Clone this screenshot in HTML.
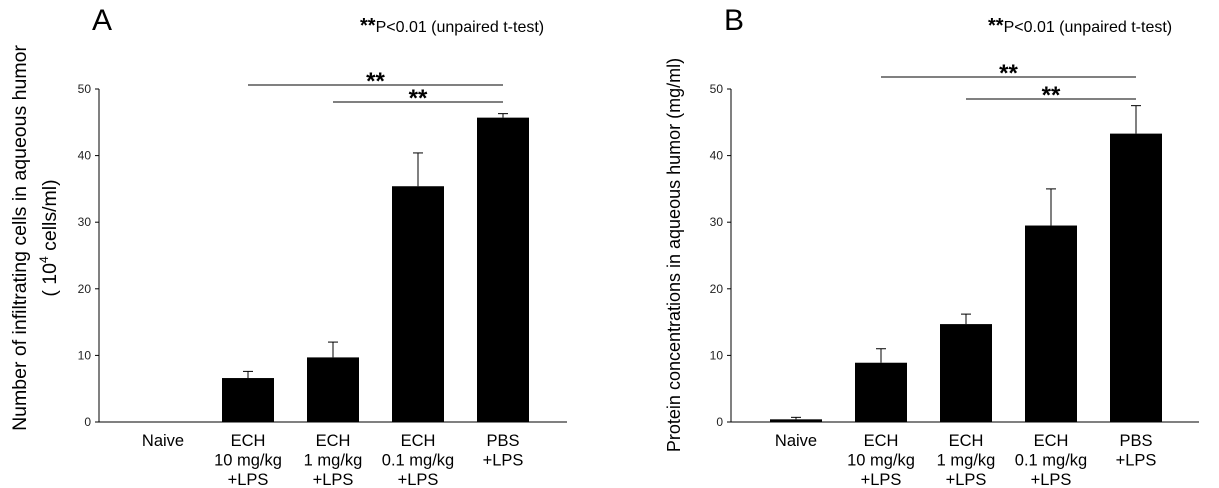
<!DOCTYPE html>
<html><head><meta charset="utf-8"><style>
html,body{margin:0;padding:0;background:#fff;}
svg{display:block;font-family:"Liberation Sans",sans-serif;}
</style></head><body>
<svg id="chart" width="1219" height="488" viewBox="0 0 1219 488"></svg>
<script>
const categories = [["Naive"],["ECH","10 mg/kg","+LPS"],["ECH","1 mg/kg","+LPS"],["ECH","0.1 mg/kg","+LPS"],["PBS","+LPS"]];
const cellsValues = [0, 6.6, 9.7, 35.4, 45.7];
const cellsErrors = [0, 1.0, 2.3, 5.0, 0.6];
const proteinValues = [0.4, 8.9, 14.7, 29.5, 43.3];
const proteinErrors = [0.3, 2.1, 1.5, 5.5, 4.2];
const yTicks = [0, 10, 20, 30, 40, 50];
const svg = document.getElementById('chart');
const NS = 'http://www.w3.org/2000/svg';
function mk(tag, attrs, parent){const e=document.createElementNS(NS,tag);for(const k in attrs)e.setAttribute(k,attrs[k]);(parent||svg).appendChild(e);return e;}
function panel(p){
  const g = mk('g',{});
  
  
  const y = v => 422 - v*(333/50);
  const x = i => p.c0 + i*p.step;
  const ax = mk('line',{x1:p.ax,y1:89,x2:p.ax,y2:422,stroke:'#000','stroke-width':1},g);
   
  const bx = mk('line',{x1:p.ax,y1:422,x2:p.axEnd,y2:422,stroke:'#000','stroke-width':1},g);
   
  yTicks.forEach(t=>{
    const tk = mk('line',{x1:p.ax-4,y1:y(t),x2:p.ax,y2:y(t),stroke:'#000'},g);
     
    const tl = mk('text',{x:p.ax-8,y:y(t)+4,'text-anchor':'end','font-size':12,fill:'#222'},g);
    tl.textContent = t;
     
  });
  p.values.forEach((v,i)=>{
    const cx = x(i);
    const e = p.errors[i];
    if (e>0){
      const el = mk('line',{x1:cx,y1:y(v),x2:cx,y2:y(v+e),stroke:'#000'},g);
       
      const ec = mk('line',{x1:cx-5,y1:y(v+e),x2:cx+5,y2:y(v+e),stroke:'#000'},g);
       
    }
    const r = mk('rect',{x:cx-26,y:y(v),width:52,height:422-y(v),fill:'#000'},g);
     
    const tx = mk('text',{'text-anchor':'middle','font-size':16.5,fill:'#000'},g);
     
    categories[i].forEach((s,j)=>{const ts=mk('tspan',{x:cx,y:446+j*19.5},tx);ts.textContent=s;});
  });
  p.sig.forEach(s=>{
    const l = mk('line',{x1:x(s[0]),y1:s[2],x2:x(s[1]),y2:s[2],stroke:'#000'},g);
     
    const st = mk('text',{x:(x(s[0])+x(s[1]))/2,y:s[2]+4,'text-anchor':'middle','font-size':24,'font-weight':'bold'},g);
    st.textContent='**';
     
  });
  const L = mk('text',{x:p.letterX,y:30,'font-size':30},g);
  L.textContent=p.letter;  
  const n = mk('text',{x:p.noteX,y:32,'font-size':16},g);
  n.innerHTML='<tspan font-weight="bold" font-size="20">**</tspan>P&lt;0.01 (unpaired t-test)';
   
  p.title(g);
}
panel({name:'panel-a',ax:99,axEnd:567,c0:163,step:85,values:cellsValues,errors:cellsErrors,
  sig:[[1,4,85],[2,4,102]],letter:'A',letterX:92,noteX:360,
  title:g=>{
    const t=mk('text',{transform:'translate(26,238) rotate(-90)','text-anchor':'middle','font-size':19.5},g);
    t.textContent='Number of infiltrating cells in aqueous humor';
     
    const t2=mk('text',{transform:'translate(56,238) rotate(-90)','text-anchor':'middle','font-size':19.5},g);
    t2.innerHTML='( 10<tspan font-size="12" dy="-8">4</tspan><tspan dy="8"> cells/ml)</tspan>';
     
  }});
panel({name:'panel-b',ax:731,axEnd:1199,c0:796,step:85,values:proteinValues,errors:proteinErrors,
  sig:[[1,4,77],[2,4,99]],letter:'B',letterX:724,noteX:988,
  title:g=>{
    const t=mk('text',{transform:'translate(680,255) rotate(-90)','text-anchor':'middle','font-size':18},g);
    t.textContent='Protein concentrations in aqueous humor (mg/ml)';
     
  }});
</script>
</body></html>
